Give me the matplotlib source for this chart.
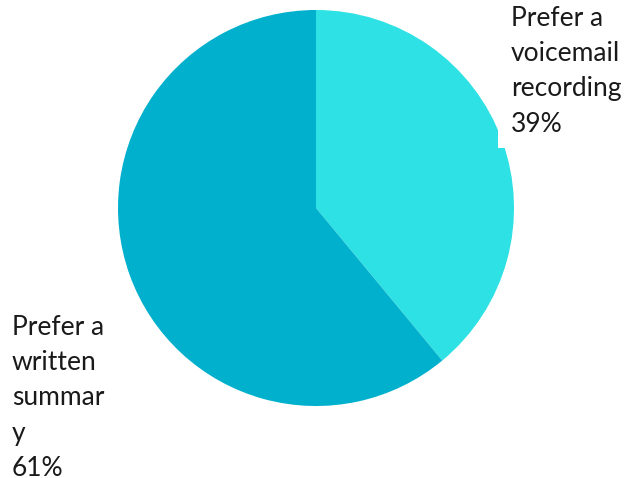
import matplotlib.pyplot as plt
from matplotlib.patches import Rectangle

labels = ["Prefer a\nvoicemail\nrecording\n39%", "Prefer a\nwritten\nsummar\ny\n61%"]
shares = [39, 61]
colors = ["#2DE1E4", "#00B0CC"]

plt.rcParams['font.family'] = ['Lato', 'DejaVu Sans']

fig = plt.figure(figsize=(6.29, 4.78), dpi=100)
ax = fig.add_axes([0.1876, 0.1506, 0.6296, 0.8285])
ax.pie(shares, colors=colors, startangle=90, counterclock=False,
       wedgeprops=dict(linewidth=0))
ax.set_aspect('equal')
ax.set_xlim(-1, 1)
ax.set_ylim(-1, 1)
ax.axis('off')

# white label box that clips the pie edge, as in the original
fig.patches.append(Rectangle((498 / 629, 1 - 148 / 478), 131 / 629, 148 / 478,
                             transform=fig.transFigure, facecolor='white',
                             edgecolor='none', zorder=5))

fig.text(511 / 629, 1 - 6 / 478, labels[0], ha='left', va='top',
         fontsize=19, linespacing=1.51, color='#1a1a1a', zorder=6)
fig.text(12 / 629, 1 - 315 / 478, labels[1], ha='left', va='top',
         fontsize=19, linespacing=1.51, color='#1a1a1a', zorder=6)

fig.savefig("out.png", dpi=100)
